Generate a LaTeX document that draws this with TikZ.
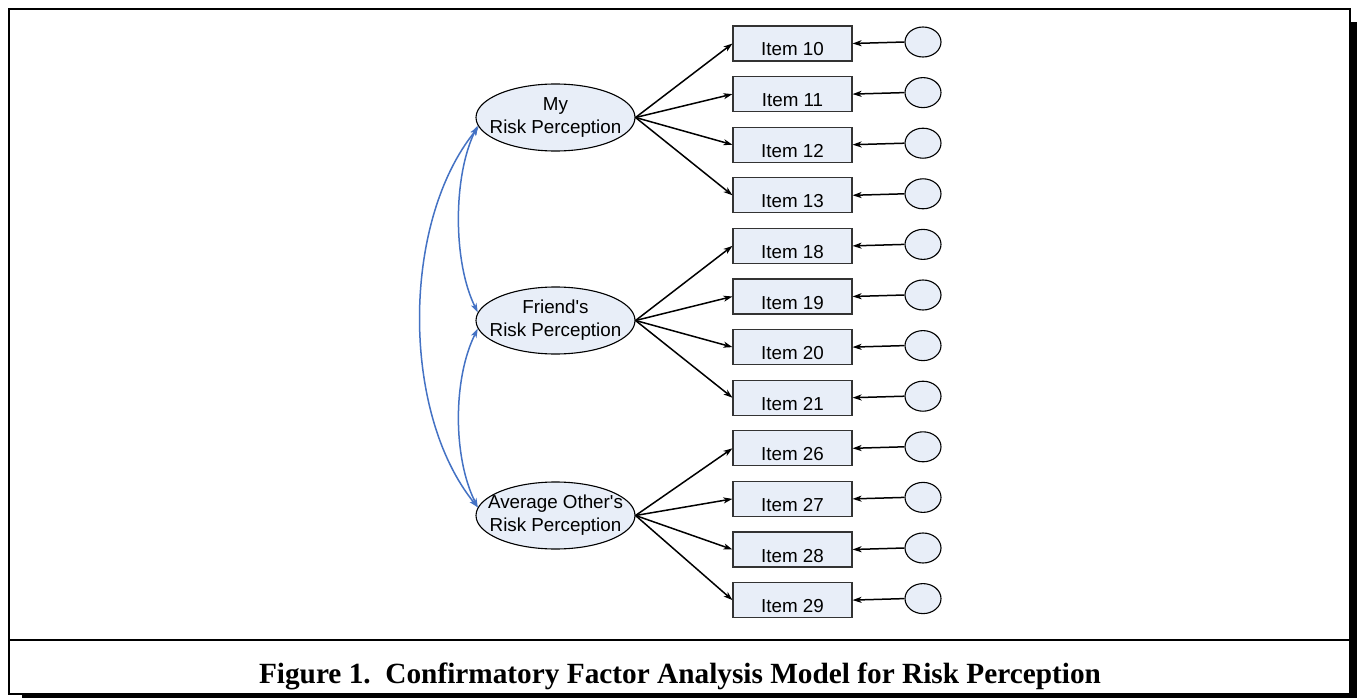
\documentclass[tikz,border=0pt]{standalone}
\usepackage{fontspec}
\setmainfont{Liberation Sans}
\newfontfamily\capfont{Liberation Serif}
\usetikzlibrary{arrows.meta,calc,shapes.geometric}
\definecolor{shapefill}{RGB}{232,238,248}
\definecolor{corrblue}{RGB}{68,114,196}
\tikzset{
  latent/.style={ellipse,draw=black,line width=1.1pt,fill=shapefill,minimum width=159pt,minimum height=67pt,inner xsep=-12pt,inner ysep=0pt,align=center,font=\fontsize{18.8}{23}\selectfont},
  itembox/.style={rectangle,draw=black!80,line width=1.1pt,fill=shapefill,minimum width=119pt,minimum height=35pt,inner sep=0pt,text height=25pt,text depth=0pt,font=\fontsize{18.8}{23}\selectfont},
  errc/.style={ellipse,draw=black,line width=1.1pt,fill=shapefill,minimum width=36pt,minimum height=30pt,inner sep=0pt},
  load/.style={draw=black,line width=1.5pt,-{Stealth[length=9pt,width=6pt,inset=2.5pt]}},
  corr/.style={draw=corrblue,line width=1.5pt,{Stealth[length=9pt,width=6pt,inset=2.5pt]}-{Stealth[length=9pt,width=6pt,inset=2.5pt]}},
  frameline/.style={draw=black,line width=2.2pt}
}
\begin{document}
\begin{tikzpicture}[x=1pt,y=-1pt]
\useasboundingbox (0,0) rectangle (1357,698);
% shadow and frame
\fill[black] (22,22) rectangle (1357,698);
\draw[frameline,fill=white] (9,9) rectangle (1350,694);
\draw[frameline] (9,640) -- (1350,640);
\node[anchor=base,font=\capfont\bfseries\fontsize{29.3}{32}\selectfont] (cap) at (680,683) {Figure 1.\ \ Confirmatory Factor Analysis Model for Risk Perception};
% latent variables
\node[latent] (my) at (555.5,117.5) {My\\Risk Perception};
\node[latent] (fr) at (555.5,320.5) {Friend\textquotesingle s\\Risk Perception};
\node[latent] (av) at (555.5,515.5) {Average Other\textquotesingle s\\Risk Perception};
% items and errors
\foreach \n/\k in {10/0,11/1,12/2,13/3,18/4,19/5,20/6,21/7,26/8,27/9,28/10,29/11}{
  \node[itembox] (i\n) at (792.5,43.5+50.6*\k) {Item \n};
  \node[errc] (e\n) at (923,42+50.6*\k) {};
  \draw[load] (e\n.west) -- (i\n.east);
}
\foreach \n in {10,11,12,13}{\draw[load] (my.east) -- (i\n.west);}
\foreach \n in {18,19,20,21}{\draw[load] (fr.east) -- (i\n.west);}
\foreach \n in {26,27,28,29}{\draw[load] (av.east) -- (i\n.west);}
% correlations
\draw[corr] (my.186) .. controls ($(my.186)+(-25,50)$) and ($(fr.174)+(-25,-50)$) .. (fr.174);
\draw[corr] (fr.186) .. controls ($(fr.186)+(-25,50)$) and ($(av.174)+(-25,-50)$) .. (av.174);
\draw[corr] (my.187) .. controls ($(my.187)+(-77,95)$) and ($(av.174)+(-77,-95)$) .. (av.174);
\end{tikzpicture}
\end{document}
